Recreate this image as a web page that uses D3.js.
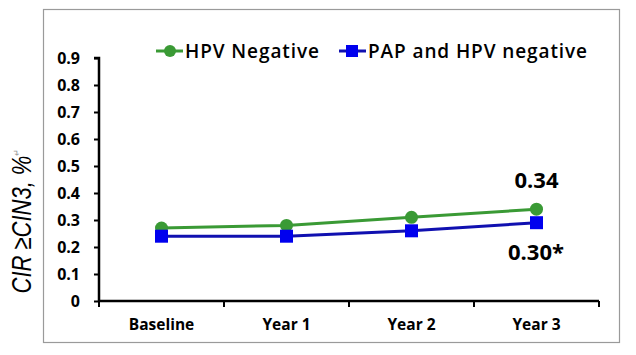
<!DOCTYPE html>
<html><head><meta charset="utf-8">
<script src="https://cdn.jsdelivr.net/npm/d3@7"></script>
<style>body{margin:0;background:#fff;}svg{display:block;}</style>
</head><body>
<svg id="c" width="636" height="355"></svg>
<script>
const categories = ["Baseline", "Year 1", "Year 2", "Year 3"];
const hpvNegative = [0.27, 0.28, 0.31, 0.34];
const papHpvNegative = [0.24, 0.24, 0.26, 0.29];
const yTicks = [0, 0.1, 0.2, 0.3, 0.4, 0.5, 0.6, 0.7, 0.8, 0.9];
const yTickLabels = ["0", "0.1", "0.2", "0.3", "0.4", "0.5", "0.6", "0.7", "0.8", "0.9"];
const seriesNames = ["HPV Negative", "PAP and HPV negative"];
const endLabels = ["0.34", "0.30*"];
const yAxisTitle = "CIR ≥CIN3, %";

const svg = d3.select("#c");
const green = "#3a9a35", blue = "#0000ee", blueLine = "#1010b0";
const tickFont = "'Open Sans', Lato, sans-serif";

// outer frame
svg.append("rect").attr("x", 43.5).attr("y", 9.5).attr("width", 576).attr("height", 333)
  .attr("fill", "none").attr("stroke", "#9a9a9a").attr("stroke-width", 1.2);

const x = d3.scaleBand().domain(categories).range([99, 599]).padding(0);
const y = d3.scaleLinear().domain([0, 0.9]).range([301, 58]);

// y axis
const yAxis = svg.append("g").attr("transform", "translate(99,0)")
  .call(d3.axisLeft(y).tickValues(yTicks).tickFormat((d, i) => yTickLabels[i]).tickSize(5).tickPadding(14));
yAxis.select(".domain").attr("stroke", "#000").attr("stroke-width", 2.5).attr("d", `M-5,${y(0.9)}H0V${y(0)}`);
yAxis.selectAll(".tick line").attr("stroke", "#000").attr("stroke-width", 2);
yAxis.selectAll(".tick text").attr("font-family", tickFont).attr("font-weight", "bold")
  .attr("font-size", 16).attr("fill", "#000");

// x axis
const xAxis = svg.append("g").attr("transform", `translate(0,${y(0)})`)
  .call(d3.axisBottom(x).tickSize(0).tickPadding(18));
xAxis.select(".domain").attr("stroke", "#000").attr("stroke-width", 2.5).attr("d", `M99,0H599`);
xAxis.selectAll(".tick text").attr("font-family", tickFont).attr("font-weight", "bold")
  .attr("font-size", 15.5).attr("fill", "#000");
const bounds = categories.map(c => x(c)).concat([x(categories[categories.length - 1]) + x.bandwidth()]);
xAxis.selectAll(".xb").data(bounds).join("line").attr("class", "xb")
  .attr("x1", d => d).attr("x2", d => d).attr("y1", 0).attr("y2", 6)
  .attr("stroke", "#000").attr("stroke-width", 2);

const cx = c => x(c) + x.bandwidth() / 2;
const line = d3.line().x((d, i) => cx(categories[i])).y(d => y(d));

svg.append("path").datum(hpvNegative).attr("d", line).attr("fill", "none")
  .attr("stroke", green).attr("stroke-width", 3);
svg.append("path").datum(papHpvNegative).attr("d", line).attr("fill", "none")
  .attr("stroke", blueLine).attr("stroke-width", 3);

svg.selectAll(".gm").data(hpvNegative).join("circle").attr("class", "gm")
  .attr("cx", (d, i) => cx(categories[i])).attr("cy", d => y(d)).attr("r", 6.5).attr("fill", green);
svg.selectAll(".bm").data(papHpvNegative).join("rect").attr("class", "bm")
  .attr("x", (d, i) => cx(categories[i]) - 6.5).attr("y", d => y(d) - 6.5)
  .attr("width", 13).attr("height", 13).attr("fill", blue);

// end labels
const last = categories.length - 1;
svg.append("text").attr("x", cx(categories[last])).attr("y", y(hpvNegative[last]) - 21)
  .attr("text-anchor", "middle").attr("font-family", tickFont).attr("font-weight", "bold")
  .attr("font-size", 22).text(endLabels[0]);
svg.append("text").attr("x", cx(categories[last]) - 0.5).attr("y", y(papHpvNegative[last]) + 37)
  .attr("text-anchor", "middle").attr("font-family", tickFont).attr("font-weight", "bold")
  .attr("font-size", 22).text(endLabels[1]);

// legend
const leg = [
  {name: seriesNames[0], x0: 156, color: green, shape: "circle"},
  {name: seriesNames[1], x0: 339, color: blueLine, shape: "rect"}
];
leg.forEach(l => {
  const g = svg.append("g").attr("transform", `translate(${l.x0},51)`);
  g.append("line").attr("x1", 0).attr("x2", 27).attr("y1", 0).attr("y2", 0)
    .attr("stroke", l.color).attr("stroke-width", 3);
  if (l.shape === "circle") g.append("circle").attr("cx", 14).attr("cy", 0).attr("r", 6).attr("fill", green);
  else g.append("rect").attr("x", 7).attr("y", -6).attr("width", 12).attr("height", 12).attr("fill", blue);
  g.append("text").attr("x", 29).attr("y", 0).attr("dy", "0.36em").attr("letter-spacing", 0.9)
    .attr("font-family", tickFont).attr("font-weight", 600).attr("font-size", 19).attr("fill", "#000").text(l.name);
});

// y axis title
const yt = svg.append("text").attr("transform", "translate(31,221) rotate(-90) scale(1,1.25)")
  .attr("text-anchor", "middle").attr("font-family", "'Liberation Sans', Arial, sans-serif")
  .attr("font-size", 22).attr("fill", "#000");
yt.append("tspan").attr("font-style", "italic").text(yAxisTitle);
yt.append("tspan").attr("font-size", 8).attr("fill", "#999").attr("dy", -9).text("↵");
</script>
</body></html>
